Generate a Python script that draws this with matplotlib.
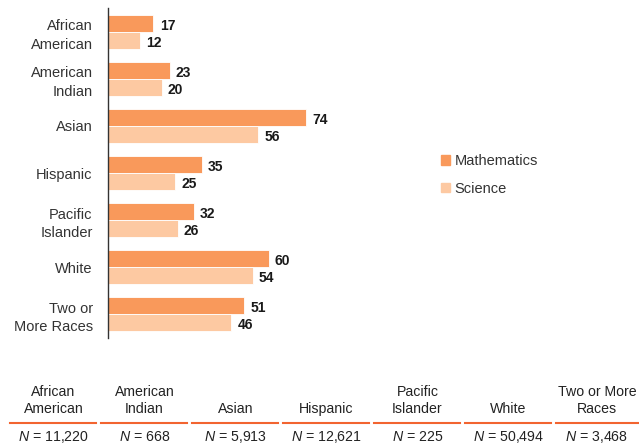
import matplotlib.pyplot as plt
from matplotlib.patches import Patch
import numpy as np

# data
groups = ["African\nAmerican", "American\nIndian", "Asian", "Hispanic",
          "Pacific\nIslander", "White", "Two or\nMore Races"]
math_vals = [17, 23, 74, 35, 32, 60, 51]
sci_vals = [12, 20, 56, 25, 26, 54, 46]

table_heads = ["African\nAmerican", "American\nIndian", "Asian", "Hispanic",
               "Pacific\nIslander", "White", "Two or More\nRaces"]
table_n = ["11,220", "668", "5,913", "12,621", "225", "50,494", "3,468"]

MATH_COL = "#F9995B"
SCI_COL = "#FDC9A2"
LINE_COL = "#F26430"

plt.rcParams['font.family'] = ['Liberation Sans', 'DejaVu Sans']
plt.rcParams['mathtext.fontset'] = 'custom'
plt.rcParams['mathtext.rm'] = 'Liberation Sans'
plt.rcParams['mathtext.it'] = 'Liberation Sans:italic'

W, H = 639, 448
fig = plt.figure(figsize=(W / 100, H / 100), dpi=100)

# main axes: left edge at x=108px, top 8px, bottom 338px
ax = fig.add_axes([108 / W, 1 - 338 / H, 80 * 2.676 / W, 330 / H])
y = np.arange(len(groups))
bh = 0.362
ax.barh(y - bh / 2, math_vals, height=bh, color=MATH_COL, edgecolor="white", linewidth=0.6)
ax.barh(y + bh / 2, sci_vals, height=bh, color=SCI_COL, edgecolor="white", linewidth=0.6)

for i in range(len(groups)):
    ax.text(math_vals[i] + 2.4, y[i] - bh / 2 + 0.05, str(math_vals[i]), va="center", ha="left",
            fontsize=10, fontweight="bold", color="#1a1a1a")
    ax.text(sci_vals[i] + 2.4, y[i] + bh / 2 + 0.05, str(sci_vals[i]), va="center", ha="left",
            fontsize=10, fontweight="bold", color="#1a1a1a")

ax.set_xlim(0, 80)
ax.set_ylim(len(groups) - 0.49, -0.51)
ax.set_yticks(y)
ax.set_yticklabels(groups, fontsize=10.5, color="#333333", ha="right", linespacing=1.45)
ax.tick_params(axis="y", length=0, pad=11)
ax.set_xticks([])
for s in ["top", "right", "bottom"]:
    ax.spines[s].set_visible(False)
ax.spines["left"].set_color("#333333")
ax.spines["left"].set_linewidth(1.0)

handles = [Patch(color=MATH_COL, label="Mathematics"), Patch(color=SCI_COL, label="Science")]
fig.legend(handles=handles, loc="center left", bbox_to_anchor=(428 / W, 1 - 175 / H),
           frameon=False, fontsize=10.5, handlelength=0.6, handleheight=0.6,
           handletextpad=0.3, labelspacing=0.95, labelcolor="#333333")

# bottom table
col_w = 91
x0 = 10
for i, (head, n) in enumerate(zip(table_heads, table_n)):
    cx = (x0 + col_w * i + col_w / 2 - 2) / W
    if i == len(table_heads) - 1:
        cx = 597 / W
    fig.text(cx, 1 - 416 / H, head, ha="center", va="bottom", fontsize=10.2,
             color="#222222", linespacing=1.3)
    fig.add_artist(plt.Line2D([(x0 + col_w * i) / W, (x0 + col_w * i + 86) / W],
                              [1 - 423 / H, 1 - 423 / H], color=LINE_COL, linewidth=1.5))
    fig.text(cx, 1 - 437 / H, r"$N$ = " + n, ha="center", va="center", fontsize=10.2,
             color="#222222")

fig.savefig("out.png", dpi=100)
